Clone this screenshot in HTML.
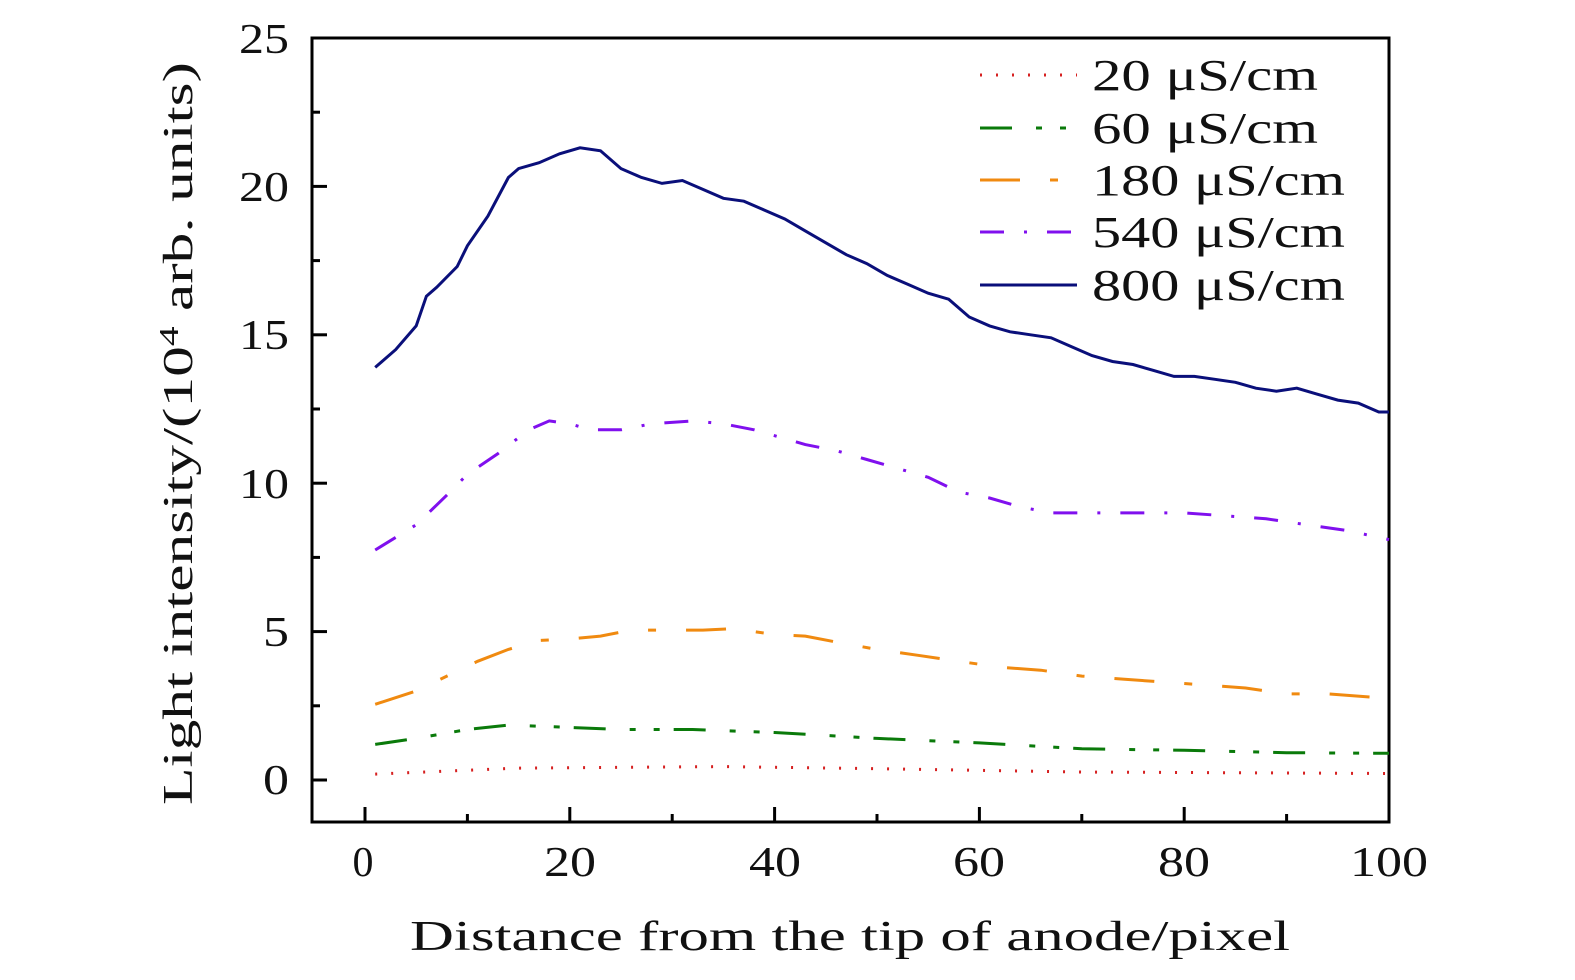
<!DOCTYPE html><html><head><style>body{margin:0;background:#fff}svg{display:block}text{font-family:"Liberation Serif",serif;fill:#111}</style></head><body>
<svg id="s" width="1575" height="980" viewBox="0 0 1575 980" xmlns="http://www.w3.org/2000/svg">
<rect x="312" y="38" width="1077" height="784" fill="none" stroke="#000" stroke-width="3"/>
<g id="ticks" stroke="#000" stroke-width="3"></g>
<g font-size="42" text-anchor="middle" lengthAdjust="spacingAndGlyphs">
<text x="363" y="876" textLength="26">0</text><text x="570" y="876" textLength="52" lengthAdjust="spacingAndGlyphs">20</text><text x="775" y="876" textLength="52" lengthAdjust="spacingAndGlyphs">40</text><text x="979" y="876" textLength="52" lengthAdjust="spacingAndGlyphs">60</text><text x="1184" y="876" textLength="52" lengthAdjust="spacingAndGlyphs">80</text><text x="1389" y="876" textLength="78" lengthAdjust="spacingAndGlyphs">100</text>
</g>
<g font-size="42" text-anchor="end">
<text x="289" y="794" textLength="26" lengthAdjust="spacingAndGlyphs">0</text><text x="289" y="646" textLength="26" lengthAdjust="spacingAndGlyphs">5</text><text x="289" y="498" textLength="50" lengthAdjust="spacingAndGlyphs">10</text><text x="289" y="349" textLength="50" lengthAdjust="spacingAndGlyphs">15</text><text x="289" y="201" textLength="50" lengthAdjust="spacingAndGlyphs">20</text><text x="289" y="53" textLength="50" lengthAdjust="spacingAndGlyphs">25</text>
</g>
<text x="410" y="950" font-size="42" textLength="880" lengthAdjust="spacingAndGlyphs">Distance from the tip of anode/pixel</text>
<text transform="translate(192,805) rotate(-90)" font-size="42" textLength="743" lengthAdjust="spacingAndGlyphs">Light intensity/(10<tspan dy="-14" font-size="27">4</tspan><tspan dy="14"> arb. units)</tspan></text>
<g id="curves" fill="none" stroke-width="3"></g>
<g stroke-width="3">
<line x1="980" y1="75" x2="1077" y2="75" stroke="#d62020" stroke-dasharray="2 14"/>
<line x1="980" y1="128" x2="1077" y2="128" stroke="#0a7a0a" stroke-dasharray="32 24 6 18 6 14"/>
<line x1="980" y1="180" x2="1077" y2="180" stroke="#f08a10" stroke-dasharray="40 30 8 30"/>
<line x1="980" y1="232" x2="1077" y2="232" stroke="#8010ee" stroke-dasharray="24 20 3 20"/>
<line x1="980" y1="285" x2="1077" y2="285" stroke="#0a0f7a"/>
</g>
<g font-size="44">
<text x="1092" y="90" textLength="226" lengthAdjust="spacingAndGlyphs">20 μS/cm</text><text x="1092" y="143" textLength="226" lengthAdjust="spacingAndGlyphs">60 μS/cm</text><text x="1092" y="195" textLength="253" lengthAdjust="spacingAndGlyphs">180 μS/cm</text><text x="1092" y="247" textLength="253" lengthAdjust="spacingAndGlyphs">540 μS/cm</text><text x="1092" y="300" textLength="253" lengthAdjust="spacingAndGlyphs">800 μS/cm</text>
</g>
</svg>
<script>
var X=function(v){return 365+v*10.24},Y=function(v){return 780-v*29.68};
var t=document.getElementById('ticks'),h='';
for(var i=0;i<=100;i+=10){var x=X(i),L=i%20==0?15:8;h+='<line x1="'+x+'" y1="822" x2="'+x+'" y2="'+(822-L)+'"/>';}
for(var j=0;j<=25;j+=2.5){var y=Y(j),L=j%5==0?15:8;h+='<line x1="312" y1="'+y+'" x2="'+(312+L)+'" y2="'+y+'"/>';}
t.innerHTML=h;
var D=[
["#d62020","2 14",[[1,.2],[15,.4],[35,.45],[50,.38],[70,.27],[100,.22]]],
["#0a7a0a","32 24 6 18 6 14",[[1,1.2],[5,1.4],[10,1.7],[14,1.85],[18,1.8],[25,1.7],[32,1.7],[40,1.6],[50,1.4],[60,1.25],[70,1.05],[80,1],[90,.92],[100,.9]]],
["#f08a10","40 30 8 30",[[1,2.55],[5,3],[8,3.5],[11,4],[14,4.4],[17,4.7],[20,4.75],[23,4.85],[26,5.05],[30,5.05],[33,5.05],[36,5.1],[40,4.9],[43,4.85],[46,4.65],[50,4.4],[54,4.2],[58,4],[62,3.8],[66,3.7],[70,3.5],[74,3.4],[78,3.3],[82,3.2],[86,3.1],[90,2.9],[94,2.9],[100,2.75]]],
["#8010ee","24 20 3 20",[[1,7.75],[5,8.6],[8,9.6],[10,10.3],[13,11],[16,11.8],[18,12.1],[20,12],[22,11.8],[25,11.8],[28,12],[32,12.1],[35,12],[38,11.8],[40,11.6],[43,11.3],[46,11.1],[49,10.8],[52,10.5],[55,10.2],[58,9.7],[61,9.5],[64,9.2],[67,9],[70,9],[73,9],[76,9],[80,9],[84,8.9],[88,8.8],[92,8.6],[96,8.4],[100,8.1]]],
["#0a0f7a","",[[1,13.9],[3,14.5],[5,15.3],[6,16.3],[7,16.6],[9,17.3],[10,18],[12,19],[14,20.3],[15,20.6],[17,20.8],[19,21.1],[21,21.3],[23,21.2],[25,20.6],[27,20.3],[29,20.1],[31,20.2],[33,19.9],[35,19.6],[37,19.5],[39,19.2],[41,18.9],[43,18.5],[45,18.1],[47,17.7],[49,17.4],[51,17],[53,16.7],[55,16.4],[57,16.2],[59,15.6],[61,15.3],[63,15.1],[65,15],[67,14.9],[69,14.6],[71,14.3],[73,14.1],[75,14],[77,13.8],[79,13.6],[81,13.6],[83,13.5],[85,13.4],[87,13.2],[89,13.1],[91,13.2],[93,13],[95,12.8],[97,12.7],[99,12.4],[100,12.4]]]];
var c='';D.forEach(function(d){c+='<polyline stroke="'+d[0]+'"'+(d[1]?' stroke-dasharray="'+d[1]+'"':'')+' points="'+d[2].map(function(p){return X(p[0]).toFixed(1)+','+Y(p[1]).toFixed(1)}).join(' ')+'"/>';});
document.getElementById('curves').innerHTML=c;
</script>
</body></html>
